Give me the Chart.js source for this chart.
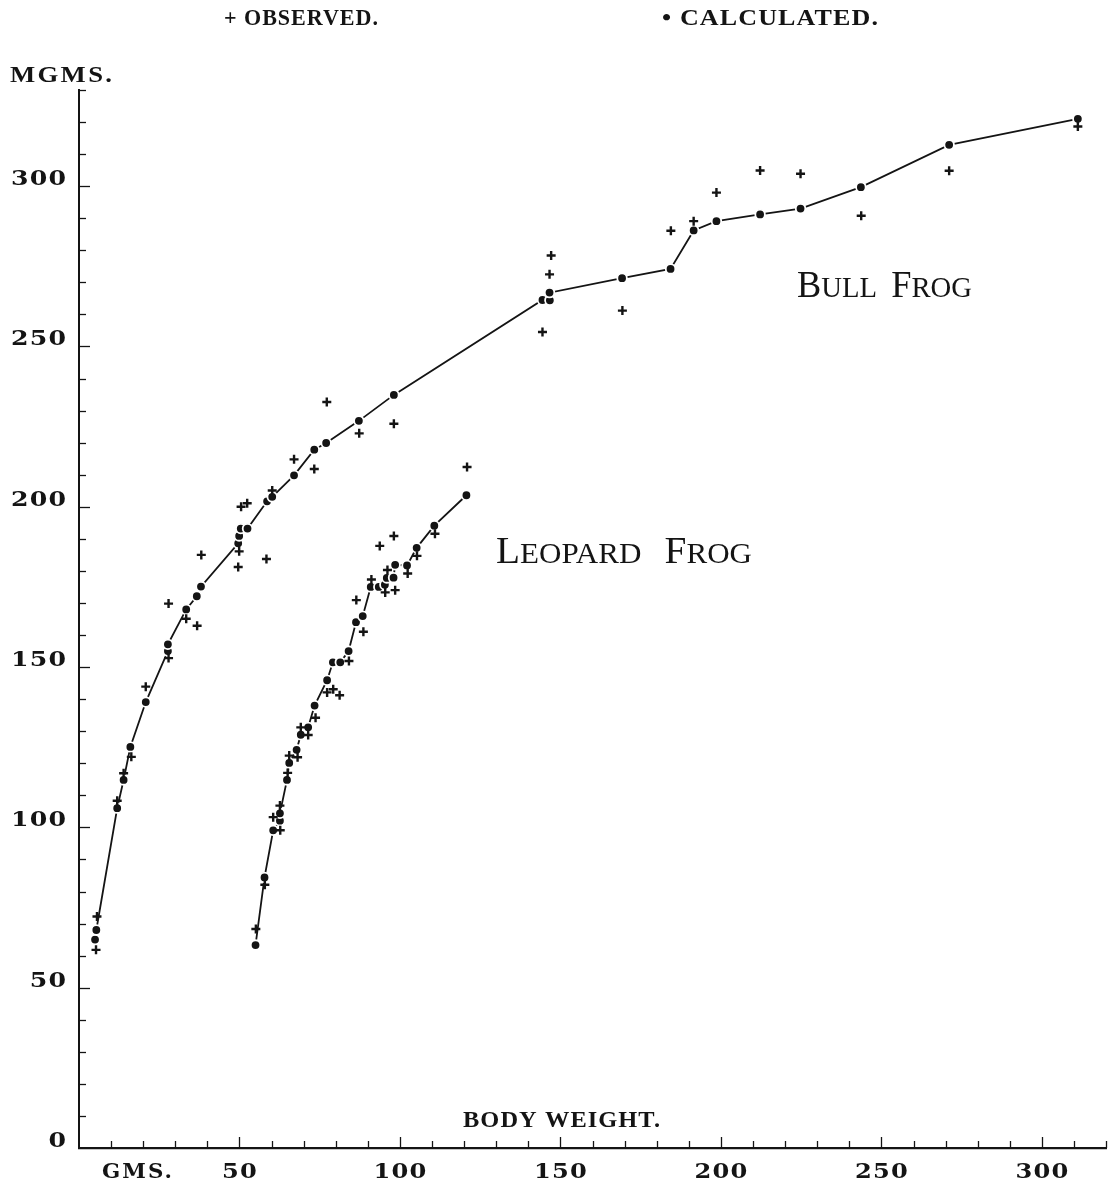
<!DOCTYPE html>
<html>
<head>
<meta charset="utf-8">
<script src="https://cdn.jsdelivr.net/npm/chart.js@4/dist/chart.umd.min.js"></script>
<style>
  html, body { margin: 0; padding: 0; background: #fff; }
  #frogChart { display: block; }
</style>
</head>
<body>
<canvas id="frogChart" width="1113" height="1187"></canvas>
<script>
// body weight (gms) against mgms
const bullObsX = [5.6, 5.3, 11.9, 13.9, 16.3, 20.8, 27.9, 27.9, 33.4, 36.8, 38.1, 49.9, 49.6, 50.5, 52.4, 58.4, 60.2, 67.0, 73.3, 77.2, 87.3, 98.1, 144.4, 146.6, 147.1, 169.3, 184.4, 191.5, 198.6, 212.2, 224.8, 243.7, 271.1, 311.2];
const bullObsY = [72.2, 61.8, 108.3, 116.9, 122.0, 143.9, 169.8, 152.8, 165.1, 162.9, 185.0, 186.1, 181.2, 200.0, 201.1, 183.7, 205.1, 214.8, 211.8, 232.7, 222.9, 225.9, 254.5, 272.5, 278.4, 261.2, 286.1, 289.1, 298.0, 304.9, 303.9, 290.8, 304.8, 318.6];

const bullCalcX = [5.0, 5.4, 11.9, 13.9, 16.0, 20.8, 27.7, 27.7, 33.4, 36.7, 38.0, 49.6, 49.9, 50.4, 52.5, 58.6, 60.2, 67.0, 73.3, 77.0, 87.2, 98.1, 144.4, 146.7, 146.6, 169.2, 184.3, 191.5, 198.6, 212.2, 224.8, 243.6, 271.1, 311.2];
const bullCalcY = [65.0, 68.0, 106.0, 114.8, 125.1, 139.1, 155.0, 157.1, 168.0, 172.1, 175.1, 188.6, 190.9, 193.2, 193.2, 201.7, 203.1, 209.8, 217.8, 219.9, 226.8, 234.9, 264.5, 264.4, 266.8, 271.3, 274.2, 286.2, 289.1, 291.2, 293.0, 299.7, 312.9, 321.0];

const leopObsX = [55.1, 57.9, 60.5, 62.7, 62.6, 65.0, 65.5, 68.1, 69.1, 71.4, 73.7, 77.3, 79.2, 81.2, 84.1, 86.4, 88.6, 91.1, 93.7, 95.4, 96.1, 98.1, 98.5, 102.4, 105.3, 110.9, 120.9];
const leopObsY = [68.3, 82.1, 103.2, 99.1, 106.8, 117.0, 122.4, 121.9, 131.2, 128.8, 134.2, 142.1, 143.1, 141.2, 151.9, 170.9, 161.0, 177.3, 187.8, 173.3, 180.3, 190.9, 174.0, 179.2, 184.7, 191.6, 212.4];

const leopCalcX = [55.0, 57.8, 60.5, 62.6, 62.6, 64.8, 65.5, 67.8, 69.1, 71.4, 73.4, 77.3, 79.1, 81.4, 84.0, 86.3, 88.4, 90.9, 93.4, 95.3, 95.9, 98.0, 98.5, 102.2, 105.2, 110.7, 120.7];
const leopCalcY = [63.3, 84.4, 99.1, 102.1, 104.4, 114.8, 120.1, 124.2, 128.9, 131.2, 138.0, 145.9, 151.5, 151.5, 155.0, 164.0, 165.9, 175.0, 175.0, 175.7, 177.8, 177.9, 181.9, 181.7, 187.2, 194.1, 203.6];

const xLabelValues = [50, 100, 150, 200, 250, 300];
const yLabelValues = [0, 50, 100, 150, 200, 250, 300];

const ink = "#141414";
const pts = (xs, ys) => xs.map((x, i) => ({ x: x, y: ys[i] }));

const tickFont = "bold 21px 'DejaVu Serif'";
const capsFont = "bold 23px 'Liberation Serif'";

// draw text stretched sideways by sx, with letter spacing ls
function drawText(ctx, text, font, x, base, align, sx, ls) {
  ctx.save();
  ctx.font = font;
  ctx.letterSpacing = ls + "px";
  const w = (ctx.measureText(text).width - ls) * sx;
  let x0 = x;
  if (align === "center") x0 = x - w / 2;
  if (align === "right") x0 = x - w;
  ctx.translate(x0, base);
  ctx.scale(sx, 1);
  ctx.textAlign = "left";
  ctx.textBaseline = "alphabetic";
  ctx.fillText(text, 0, 0);
  ctx.restore();
}

// squeeze or stretch text so it runs from x0 to x1
function fitText(ctx, text, font, ls, x0, x1, base) {
  ctx.save();
  ctx.font = font;
  ctx.letterSpacing = ls + "px";
  const w = ctx.measureText(text).width - ls;
  ctx.translate(x0, base);
  ctx.scale((x1 - x0) / w, 1);
  ctx.textAlign = "left";
  ctx.textBaseline = "alphabetic";
  ctx.fillText(text, 0, 0);
  ctx.restore();
}

// small caps label squeezed to the width x0..x1
function smallCaps(ctx, runs, x0, x1, base) {
  ctx.save();
  let total = 0;
  runs.forEach(r => { ctx.font = r[1]; total += ctx.measureText(r[0]).width; });
  ctx.translate(x0, base);
  ctx.scale((x1 - x0) / total, 1);
  let x = 0;
  ctx.textAlign = "left";
  ctx.textBaseline = "alphabetic";
  runs.forEach(r => { ctx.font = r[1]; ctx.fillText(r[0], x, 0); x += ctx.measureText(r[0]).width; });
  ctx.restore();
}

const platePlugin = {
  id: "plate",
  beforeDraw(chart) {
    const ctx = chart.ctx;
    ctx.save();
    ctx.fillStyle = "#fff";
    ctx.fillRect(0, 0, chart.width, chart.height);
    ctx.restore();
  },
  afterDraw(chart) {
    const ctx = chart.ctx;
    const xs = chart.scales.x;
    const ys = chart.scales.y;
    const area = chart.chartArea;
    ctx.save();
    ctx.strokeStyle = ink;
    ctx.fillStyle = ink;
    ctx.lineWidth = 1.3;

    // inward tick marks, longer every 50
    ys.ticks.forEach(t => {
      if (t.value === 0) return;
      const py = Math.round(ys.getPixelForValue(t.value)) + 0.5;
      const len = t.value % 50 === 0 ? 11 : 7;
      ctx.beginPath();
      ctx.moveTo(area.left, py);
      ctx.lineTo(area.left + len, py);
      ctx.stroke();
    });
    xs.ticks.forEach(t => {
      if (t.value === 0) return;
      const px = Math.round(xs.getPixelForValue(t.value)) + 0.5;
      const len = t.value % 50 === 0 ? 11 : 7;
      ctx.beginPath();
      ctx.moveTo(px, area.bottom);
      ctx.lineTo(px, area.bottom - len);
      ctx.stroke();
    });

    // tick labels
    yLabelValues.forEach(v => {
      drawText(ctx, String(v), tickFont, 66, ys.getPixelForValue(v) - 1, "right", 1.2, 1);
    });
    xLabelValues.forEach(v => {
      drawText(ctx, String(v), tickFont, xs.getPixelForValue(v), 1178, "center", 1.15, 1);
    });

    // captions
    fitText(ctx, "GMS.", tickFont, 2, 102, 172, 1178);
    fitText(ctx, "MGMS.", capsFont, 2, 10, 112, 82);
    fitText(ctx, "BODY WEIGHT.", capsFont, 1, 463, 660, 1127);
    fitText(ctx, "+ OBSERVED.", capsFont, 1, 224, 378, 25);
    fitText(ctx, "\u2022 CALCULATED.", capsFont, 1, 662, 878, 25);

    const big = "38px 'Liberation Serif'";
    const small = "30px 'Liberation Serif'";
    smallCaps(ctx, [["B", big], ["ULL", small], ["  ", small], ["F", big], ["ROG", small]], 797, 972, 297);
    smallCaps(ctx, [["L", big], ["EOPARD", small], ["   ", small], ["F", big], ["ROG", small]], 496, 752, 563);
    ctx.restore();
  }
};

const observedStyle = {
  showLine: false,
  pointStyle: "cross",
  pointRadius: 4.5,
  pointBorderWidth: 2.4,
  pointBorderColor: ink,
  pointBackgroundColor: ink,
  order: 0,
};

const calculatedStyle = {
  showLine: true,
  borderColor: ink,
  borderWidth: 1.8,
  pointStyle: "circle",
  pointRadius: 4.8,
  pointBorderWidth: 1.8,
  pointBorderColor: "#fff",
  pointBackgroundColor: ink,
  order: 1,
};

new Chart(document.getElementById("frogChart"), {
  type: "scatter",
  data: {
    datasets: [
      Object.assign({ label: "Bull Frog observed", data: pts(bullObsX, bullObsY) }, observedStyle),
      Object.assign({ label: "Bull Frog calculated", data: pts(bullCalcX, bullCalcY) }, calculatedStyle),
      Object.assign({ label: "Leopard Frog observed", data: pts(leopObsX, leopObsY) }, observedStyle),
      Object.assign({ label: "Leopard Frog calculated", data: pts(leopCalcX, leopCalcY) }, calculatedStyle),
    ],
  },
  options: {
    responsive: false,
    animation: false,
    devicePixelRatio: 1,
    layout: { padding: { top: 90, right: 6, left: 0, bottom: 0 } },
    plugins: {
      legend: { display: false },
      tooltip: { enabled: false },
    },
    scales: {
      x: {
        type: "linear",
        min: 0,
        max: 320,
        ticks: { stepSize: 10, display: false },
        grid: { display: false },
        border: { display: true, color: ink, width: 2.2 },
        afterFit: (s) => { s.height = 39; },
      },
      y: {
        type: "linear",
        min: 0,
        max: 330,
        ticks: { stepSize: 10, display: false },
        grid: { display: false },
        border: { display: true, color: ink, width: 2 },
        afterFit: (s) => { s.width = 79; },
      },
    },
  },
  plugins: [platePlugin],
});
</script>
</body>
</html>
